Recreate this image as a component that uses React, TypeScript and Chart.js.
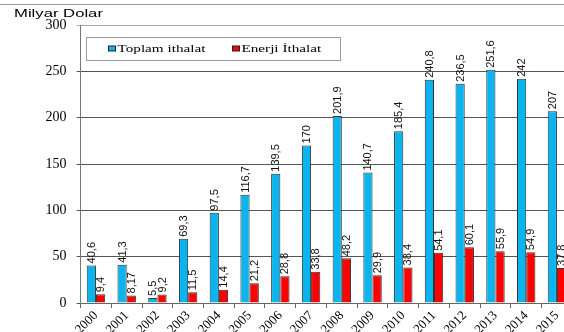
import React, { useEffect, useRef } from "react";
import { Chart, registerables } from "chart.js";

Chart.register(...registerables);

const years = ["2000","2001","2002","2003","2004","2005","2006","2007","2008","2009","2010","2011","2012","2013","2014","2015"];
const toplamIthalat = [40.6,41.3,5.5,69.3,97.5,116.7,139.5,170,201.9,140.7,185.4,240.8,236.5,251.6,242,207];
const enerjiIthalat = [9.4,8.17,9.2,11.5,14.4,21.2,28.8,33.8,48.2,29.9,38.4,54.1,60.1,55.9,54.9,37.8];
const seriesNames = ["Toplam ithalat", "Enerji İthalat"];
const seriesColors = ["#0ab4ee", "#ff0000"];
const yTitle = "Milyar Dolar";
const yMax = 300;
const yStep = 50;

const fmt = (v: number) => String(v).replace(".", ",");

const decorPlugin = {
  id: "decor",
  beforeDraw(chart: any) {
    const ctx = chart.ctx;
    ctx.save();
    ctx.strokeStyle = "#9a9a9a";
    ctx.lineWidth = 1;
    ctx.beginPath();
    ctx.moveTo(0, 4.5);
    ctx.lineTo(chart.width, 4.5);
    ctx.stroke();
    ctx.fillStyle = "#000";
    ctx.font = "11.5px 'Liberation Sans', Arial, sans-serif";
    ctx.textBaseline = "alphabetic";
    ctx.translate(14, 17);
    ctx.scale(1.45, 1);
    ctx.fillText(yTitle, 0, 0);
    ctx.restore();
  },
  afterDatasetsDraw(chart: any) {
    const ctx = chart.ctx;
    ctx.save();
    ctx.fillStyle = "#111";
    ctx.font = "11px 'Liberation Sans Narrow', 'Liberation Sans', Arial, sans-serif";
    chart.data.datasets.forEach((ds: any, i: number) => {
      const meta = chart.getDatasetMeta(i);
      meta.data.forEach((bar: any, j: number) => {
        ctx.save();
        ctx.translate(bar.x + 0.5, bar.y - 2);
        ctx.rotate(-Math.PI / 2);
        ctx.textAlign = "left";
        ctx.textBaseline = "middle";
        ctx.fillText(fmt(ds.data[j]), 0, 0);
        ctx.restore();
      });
    });
    const ca = chart.chartArea;
    const bx = Math.round(ca.left + 5) + 0.5;
    const by = Math.round(ca.top + 12) + 0.5;
    ctx.fillStyle = "#fff";
    ctx.fillRect(bx, by, 254, 23);
    ctx.strokeStyle = "#9a9a9a";
    ctx.lineWidth = 1;
    ctx.strokeRect(bx, by, 254, 23);
    const items = [ {sx: bx + 22, tx: bx + 31}, {sx: bx + 146, tx: bx + 155} ];
    chart.data.datasets.forEach((ds: any, i: number) => {
      const it = items[i];
      ctx.fillStyle = ds.backgroundColor;
      ctx.fillRect(it.sx, by + 8.5, 7, 5);
      ctx.strokeStyle = "#222";
      ctx.strokeRect(it.sx, by + 8.5, 7, 5);
      ctx.save();
      ctx.fillStyle = "#000";
      ctx.font = "11px 'Liberation Serif', 'Times New Roman', serif";
      ctx.textBaseline = "middle";
      ctx.translate(it.tx, by + 11.5);
      ctx.scale(1.38, 1);
      ctx.fillText(ds.label, 0, 0);
      ctx.restore();
    });
    ctx.restore();
  },
};

export default function App() {
  const ref = useRef<HTMLCanvasElement>(null);
  useEffect(() => {
    if (!ref.current) return;
    const chart = new Chart(ref.current, {
      type: "bar",
      data: {
        labels: years,
        datasets: [
          { label: seriesNames[0], data: toplamIthalat, backgroundColor: seriesColors[0], borderColor: "#333", borderWidth: 1 },
          { label: seriesNames[1], data: enerjiIthalat, backgroundColor: seriesColors[1], borderColor: "#333", borderWidth: 1 },
        ],
      },
      options: {
        animation: false,
        responsive: false,
        devicePixelRatio: 1,
        layout: { padding: { top: 25, right: 7.7, left: 0, bottom: 0 } },
        plugins: { legend: { display: false }, tooltip: { enabled: false }, title: { display: false } },
        datasets: { bar: { categoryPercentage: 0.6, barPercentage: 1 } },
        scales: {
          x: {
            grid: { display: true, drawOnChartArea: false, drawTicks: true, tickLength: 5, color: "#666", offset: true },
            border: { display: true, color: "#666" },
            ticks: {
              autoSkip: false,
              maxRotation: 45,
              minRotation: 45,
              padding: 0,
              color: "#000",
              font: { family: "Liberation Serif", size: 13 },
            },
            afterFit: (s: any) => { s.height = 29; },
          },
          y: {
            min: 0,
            max: yMax,
            ticks: {
              stepSize: yStep,
              padding: 10,
              color: "#000",
              font: { family: "Liberation Serif", size: 14 },
            },
            grid: {
              color: (c: any) => (c.tick && c.tick.value === yMax ? "#aaaaaa" : "#555555"),
              tickLength: 4,
            },
            border: { display: true, color: "#777" },
            afterFit: (s: any) => { s.width = 80.6; },
          },
        },
      },
      plugins: [decorPlugin],
    });
    return () => chart.destroy();
  }, []);
  return (
    <div style={{ position: "fixed", left: 0, top: 0, width: 564, height: 332, overflow: "hidden", background: "#fff" }}>
      <canvas ref={ref} width={580} height={332} style={{ display: "block" }} />
    </div>
  );
}
